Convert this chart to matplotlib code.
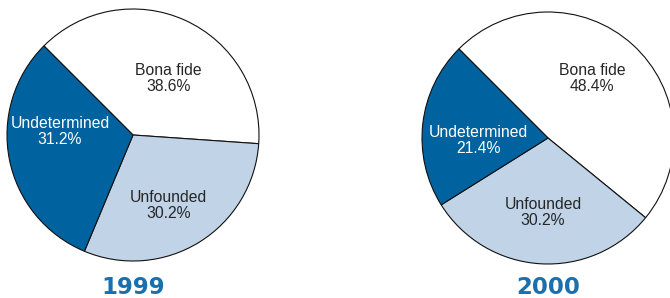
import matplotlib
matplotlib.use("Agg")
import matplotlib.pyplot as plt

# ─── Data ────────────────────────────────────────────────────────────────────
categories = ["Bona fide", "Unfounded", "Undetermined"]
years = ["1999", "2000"]
share_1999 = [38.6, 30.2, 31.2]
share_2000 = [48.4, 30.2, 21.4]

COLORS = ["#ffffff", "#c0d3e7", "#00629e"]
TEXT_COLORS = ["#262626", "#262626", "#ffffff"]
TITLE_COLOR = "#1a6fad"

# label placement (in pie units) per panel
LABEL_POS = [
    [(0.28, 0.45), (0.28, -0.56), (-0.58, 0.03)],
    [(0.35, 0.47), (-0.04, -0.59), (-0.55, -0.02)],
]

W, H = 670, 298
fig = plt.figure(figsize=(W / 100, H / 100), dpi=100)
fig.patch.set_facecolor("white")

# pie boxes in pixels: (center x, center y from top, radius)
boxes = [(133, 135, 126), (548, 138, 126)]

for k, (vals, year) in enumerate(zip([share_1999, share_2000], years)):
    cx, cy, r = boxes[k]
    ax = fig.add_axes([(cx - r) / W, 1 - (cy + r) / H, 2 * r / W, 2 * r / H])
    ax.pie(vals, colors=COLORS, startangle=135, counterclock=False,
           radius=1.0, wedgeprops=dict(edgecolor="#111111", linewidth=0.8))
    ax.set_xlim(-1, 1)
    ax.set_ylim(-1, 1)
    ax.set_aspect("auto")
    ax.axis("off")
    for i, (cat, v) in enumerate(zip(categories, vals)):
        x, y = LABEL_POS[k][i]
        ax.text(x, y, f"{cat}\n{v:.1f}%", ha="center", va="center",
                fontsize=11.3, color=TEXT_COLORS[i], linespacing=1.1,
                family="Liberation Sans")
    fig.text(cx / W, 1 - 287 / H, year, ha="center", va="center",
             fontsize=16.5, fontweight="bold", color=TITLE_COLOR,
             family="DejaVu Sans")

fig.savefig("out.png", dpi=100)
